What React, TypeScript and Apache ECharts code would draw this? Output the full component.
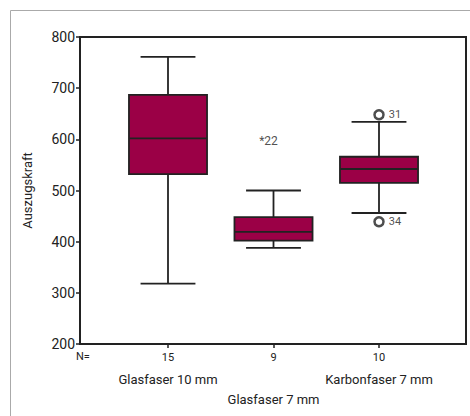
import React, { useEffect, useRef } from "react";
import * as echarts from "echarts";

const categories = ["Glasfaser 10 mm", "Glasfaser 7 mm", "Karbonfaser 7 mm"];
const counts = [15, 9, 10];
const whiskerMin = [318, 388, 456];
const q1 = [532, 402, 515];
const median = [602, 419, 542];
const q3 = [687, 448, 566];
const whiskerMax = [761, 500, 634];
const outlierCat = [2, 2];
const outlierValue = [648, 439];
const outlierLabel = ["31", "34"];
const extremeCat = [1];
const extremeValue = [600];
const extremeLabel = ["22"];
const yTicks = { min: 200, max: 800, interval: 100 };

const FONT = "Roboto";
const BOX = "#9b0046";
const INK = "#222";

export default function App() {
  const ref = useRef<HTMLDivElement>(null);
  useEffect(() => {
    if (!ref.current) return;
    const chart = echarts.init(ref.current, null, { renderer: "svg" });
    const boxData = categories.map((_, i) => [i, whiskerMin[i], q1[i], median[i], q3[i], whiskerMax[i]]);
    const option: any = {
      animation: false,
      backgroundColor: "#fff",
      textStyle: { fontFamily: FONT },
      graphic: [
        { type: "rect", shape: { x: 10.5, y: 10.5, width: 480, height: 430 }, style: { fill: "none", stroke: "#aaa", lineWidth: 1 }, silent: true, z: -10 },
        { type: "text", left: 76, top: 351, style: { text: "N=", font: `11px ${FONT}`, fill: INK } },
      ],
      grid: [
        { left: 80, right: 4, top: 37, bottom: 72, show: true, borderColor: INK, borderWidth: 2, backgroundColor: "transparent" },
        { left: 115.25, right: 38.25, top: 37, bottom: 72 },
      ],
      xAxis: [
        { gridIndex: 0, type: "value", min: 0, max: 1, show: false },
        {
          gridIndex: 1,
          type: "category",
          data: categories,
          axisLine: { show: false },
          axisTick: { show: true, alignWithLabel: true, length: 4, lineStyle: { color: INK, width: 1.5 } },
          axisLabel: {
            margin: 6,
            interval: 0,
            formatter: (v: string, i: number) =>
              i === 1 ? `{n|${counts[i]}}\n{g2|${v}}` : `{n|${counts[i]}}\n{g|${v}}`,
            rich: {
              n: { fontSize: 11, lineHeight: 14, color: INK, fontFamily: FONT },
              g: { fontSize: 13, lineHeight: 30, color: INK, fontFamily: FONT },
              g2: { fontSize: 13, lineHeight: 70, color: INK, fontFamily: FONT },
            },
          },
        },
      ],
      yAxis: [
        {
          gridIndex: 0,
          type: "value",
          min: yTicks.min,
          max: yTicks.max,
          interval: yTicks.interval,
          name: "Auszugskraft",
          nameLocation: "middle",
          nameGap: 46,
          nameTextStyle: { fontSize: 13, color: INK, fontFamily: FONT },
          axisLine: { show: true, lineStyle: { color: INK, width: 2 } },
          axisTick: { show: true, length: 4, lineStyle: { color: INK, width: 1.5 } },
          axisLabel: { fontSize: 14, color: INK, margin: 5, fontFamily: FONT },
          splitLine: { show: false },
        },
        { gridIndex: 1, type: "value", min: yTicks.min, max: yTicks.max, show: false },
      ],
      series: [
        {
          type: "custom",
          xAxisIndex: 1,
          yAxisIndex: 1,
          data: boxData,
          renderItem: (params: any, api: any) => {
            const x = api.value(0);
            const [cx, yMin] = api.coord([x, api.value(1)]);
            const yQ1 = api.coord([x, api.value(2)])[1];
            const yMed = api.coord([x, api.value(3)])[1];
            const yQ3 = api.coord([x, api.value(4)])[1];
            const yMax = api.coord([x, api.value(5)])[1];
            const band = api.size([1, 0])[0];
            const hw = band * 0.37;
            const cw = band * 0.26;
            const ls = { stroke: INK, lineWidth: 1.8 };
            return {
              type: "group",
              children: [
                { type: "line", shape: { x1: cx, y1: yQ3, x2: cx, y2: yMax }, style: ls },
                { type: "line", shape: { x1: cx, y1: yQ1, x2: cx, y2: yMin }, style: ls },
                { type: "line", shape: { x1: cx - cw, y1: yMax, x2: cx + cw, y2: yMax }, style: ls },
                { type: "line", shape: { x1: cx - cw, y1: yMin, x2: cx + cw, y2: yMin }, style: ls },
                { type: "rect", shape: { x: cx - hw, y: yQ3, width: hw * 2, height: yQ1 - yQ3 }, style: { fill: BOX, stroke: INK, lineWidth: 1.8 } },
                { type: "line", shape: { x1: cx - hw, y1: yMed, x2: cx + hw, y2: yMed }, style: ls },
              ],
            };
          },
        },
        {
          type: "scatter",
          xAxisIndex: 1,
          yAxisIndex: 1,
          symbol: "circle",
          symbolSize: 9,
          itemStyle: { color: "#fff", borderColor: INK, borderWidth: 2.5 },
          label: { show: true, position: "right", distance: 4, fontSize: 11, color: INK, fontFamily: FONT, formatter: (p: any) => outlierLabel[p.dataIndex] },
          data: outlierCat.map((c, i) => [c, outlierValue[i]]),
          z: 5,
        },
        {
          type: "scatter",
          xAxisIndex: 1,
          yAxisIndex: 1,
          symbolSize: 1,
          itemStyle: { color: "rgba(0,0,0,0)" },
          label: { show: true, position: "inside", offset: [-5, 2], fontSize: 12, color: INK, fontFamily: FONT, formatter: (p: any) => `*${extremeLabel[p.dataIndex]}` },
          data: extremeCat.map((c, i) => [c, extremeValue[i]]),
        },
      ],
    };
    chart.setOption(option);
    return () => chart.dispose();
  }, []);
  return <div ref={ref} style={{ width: 470, height: 416, position: "absolute", left: 0, top: 0 }} />;
}
